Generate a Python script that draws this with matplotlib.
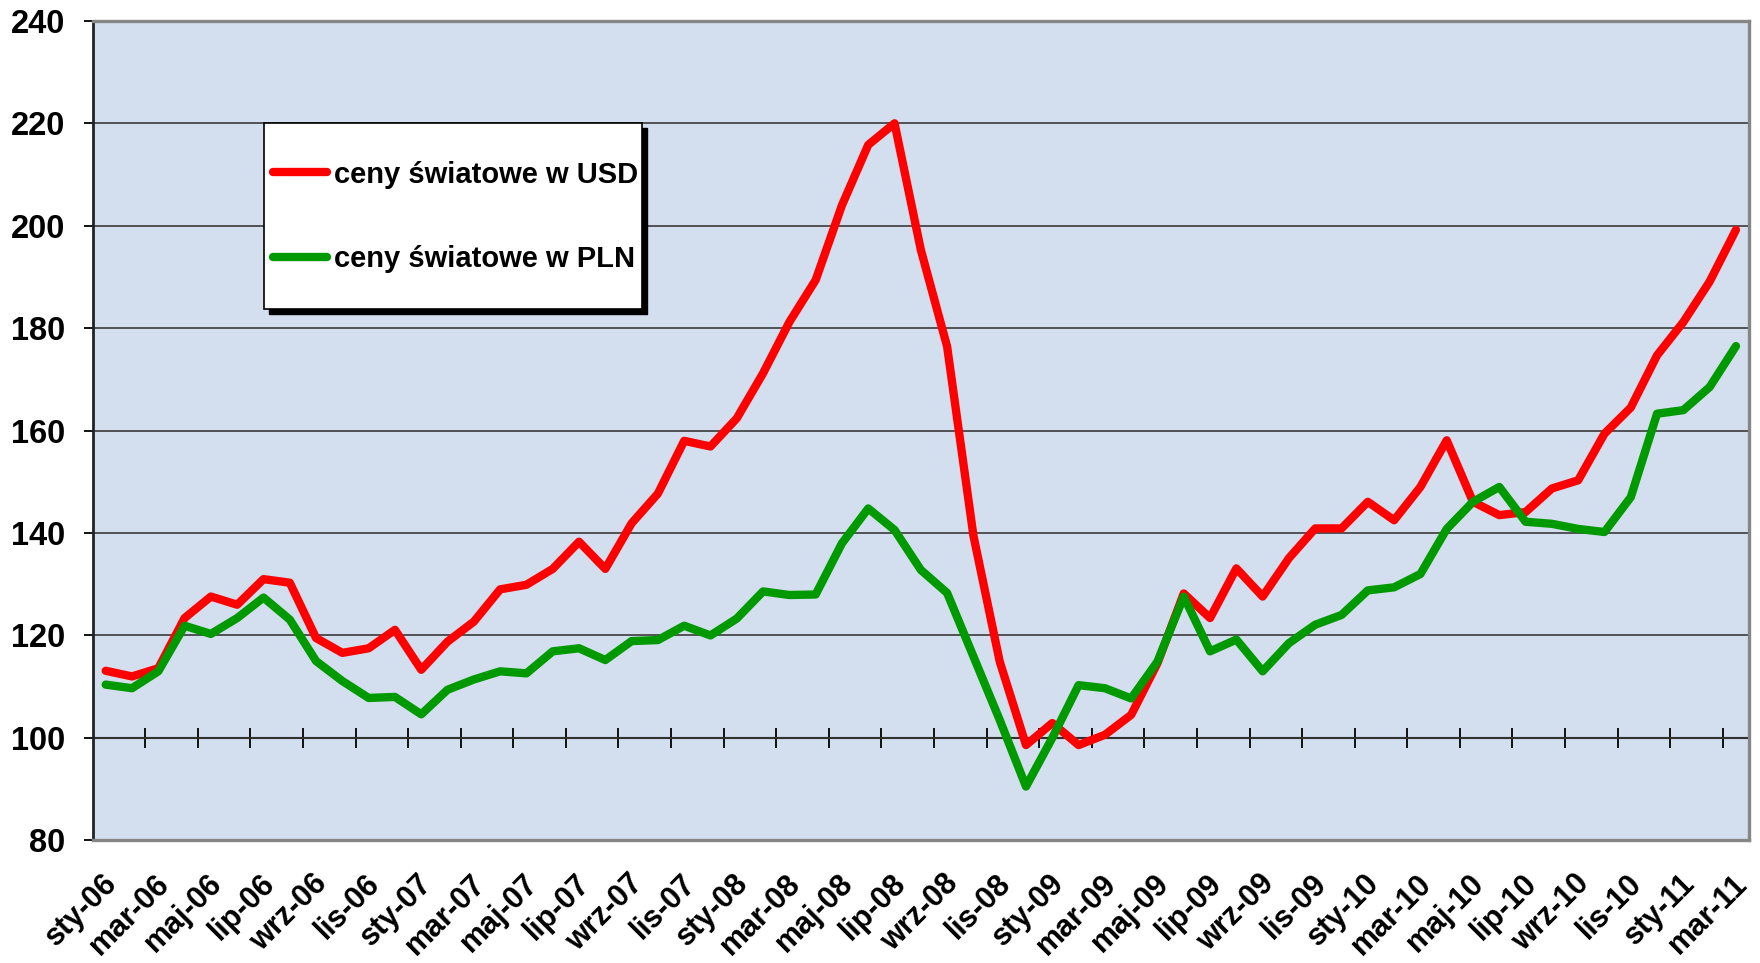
# -*- coding: utf-8 -*-
# Ceny swiatowe w USD i PLN, dane miesieczne sty-06 .. mar-11

import numpy as np
import matplotlib.pyplot as plt
from matplotlib.patches import Rectangle
from matplotlib import transforms

# Labels on the category axis (every second month)
tick_labels = ['sty-06', 'mar-06', 'maj-06', 'lip-06', 'wrz-06', 'lis-06',
               'sty-07', 'mar-07', 'maj-07', 'lip-07', 'wrz-07', 'lis-07',
               'sty-08', 'mar-08', 'maj-08', 'lip-08', 'wrz-08', 'lis-08',
               'sty-09', 'mar-09', 'maj-09', 'lip-09', 'wrz-09', 'lis-09',
               'sty-10', 'mar-10', 'maj-10', 'lip-10', 'wrz-10', 'lis-10',
               'sty-11', 'mar-11']

# monthly values, January 2006 - March 2011
usd = [113.1, 112.0, 113.6, 123.4, 127.6, 126.0, 131.0, 130.3, 119.5, 116.6, 117.5, 121.1,
       113.3, 118.8, 122.7, 129.0, 129.9, 133.0, 138.3, 133.0, 141.9, 147.7, 158.0, 156.9,
       162.4, 171.2, 181.2, 189.4, 204.0, 215.8, 220.0, 195.3, 176.4, 139.5, 114.9, 98.6,
       102.9, 98.6, 100.6, 104.5, 114.6, 128.2, 123.4, 133.1, 127.6, 135.1, 140.9, 140.9,
       146.1, 142.5, 149.0, 158.1, 146.1, 143.5, 144.1, 148.7, 150.3, 159.4, 164.5, 174.7,
       181.2, 189.1, 199.2]

pln = [110.4, 109.7, 113.0, 121.9, 120.3, 123.4, 127.4, 123.1, 115.0, 111.1, 107.8, 108.0,
       104.6, 109.4, 111.4, 113.0, 112.6, 116.9, 117.5, 115.2, 118.9, 119.1, 121.9, 120.0,
       123.3, 128.6, 127.9, 128.0, 138.0, 144.8, 140.6, 132.8, 128.3, 115.9, 103.5, 90.5,
       100.0, 110.3, 109.7, 107.7, 114.9, 127.6, 116.9, 119.2, 113.0, 118.5, 122.1, 124.0,
       128.8, 129.4, 132.0, 140.8, 146.1, 149.0, 142.2, 141.8, 140.8, 140.2, 147.0, 163.3,
       164.0, 168.5, 176.5]

series_names = ['ceny światowe w USD', 'ceny światowe w PLN']
series_colors = ['#FF0000', '#009900']

plt.rcParams['font.family'] = ['Liberation Sans', 'DejaVu Sans']
plt.rcParams['font.weight'] = 'bold'

bg = '#D3DFEE'
x = np.arange(len(usd))

fig = plt.figure(figsize=(17.6, 9.63), dpi=100)
ax = fig.add_axes([0.0526, 0.1274, 0.9412, 0.8509])

# twin axes carries the background and the category axis crossing at 100
ax2 = ax.twiny()
ax.set_zorder(2)
ax2.set_zorder(1)
ax.patch.set_visible(False)
ax2.patch.set_visible(True)
ax2.set_facecolor(bg)

# data lines
for vals, name, col in zip([usd, pln], series_names, series_colors):
    ax.plot(x, vals, color=col, lw=6.0, label=name,
            solid_capstyle='round', solid_joinstyle='round', zorder=3)

ax.set_xlim(-0.5, len(usd) - 0.5)
ax.set_ylim(80, 240)
ax.set_yticks(np.arange(80, 241, 20))
ax.yaxis.grid(True, color='#3a3a3a', lw=1.2)
ax.set_axisbelow(True)

# spines
for s in ['top', 'right', 'bottom']:
    ax.spines[s].set_color('#868686')
    ax.spines[s].set_linewidth(2.4)
ax.spines['left'].set_color('#222222')
ax.spines['left'].set_linewidth(2.0)

ax.tick_params(axis='y', direction='out', length=6.5, width=1.3, color='black',
               pad=13, labelsize=23.5)
for lbl in ax.get_yticklabels():
    lbl.set_fontweight('bold')

# category labels at bottom
ax.set_xticks(x[::2])
ax.set_xticklabels(tick_labels, rotation=45, ha='right', va='center',
                   rotation_mode='anchor', fontsize=22, fontweight='bold')
ax.tick_params(axis='x', length=0, pad=28)
shift = transforms.ScaledTranslation(0.07, 0, fig.dpi_scale_trans)
for lbl in ax.get_xticklabels():
    lbl.set_transform(lbl.get_transform() + shift)

# category axis line at 100 with cross tick marks
ax2.set_xlim(ax.get_xlim())
for s in ['top', 'left', 'right']:
    ax2.spines[s].set_visible(False)
ax2.spines['bottom'].set_position(('data', 100))
ax2.spines['bottom'].set_color('black')
ax2.spines['bottom'].set_linewidth(1.5)
ax2.xaxis.set_ticks_position('bottom')
ax2.set_xticks(np.arange(1.5, len(usd) - 1, 2))
ax2.tick_params(axis='x', direction='inout', length=14, width=1.3, color='black',
                labelbottom=False, labeltop=False)

# legend box with shadow
box = [0.1035, 0.6484, 0.2282, 0.227]
shadow_tr = transforms.offset_copy(ax.transAxes, fig=fig, x=5, y=-5, units='dots')
ax.add_patch(Rectangle((box[0], box[1]), box[2], box[3], transform=shadow_tr,
                       fc='black', ec='black', lw=1, zorder=4))
ax.add_patch(Rectangle((box[0], box[1]), box[2], box[3], transform=ax.transAxes,
                       fc='white', ec='black', lw=1.2, zorder=4.5))
leg = ax.legend(loc='center left', bbox_to_anchor=(0.109, 0.7607), frameon=False,
                fontsize=21, handlelength=1.85, handletextpad=0.25, labelspacing=1.95,
                borderpad=0, borderaxespad=0)
leg.set_zorder(6)
for t in leg.get_texts():
    t.set_fontweight('bold')

fig.savefig('out.png', dpi=100, facecolor='white')
